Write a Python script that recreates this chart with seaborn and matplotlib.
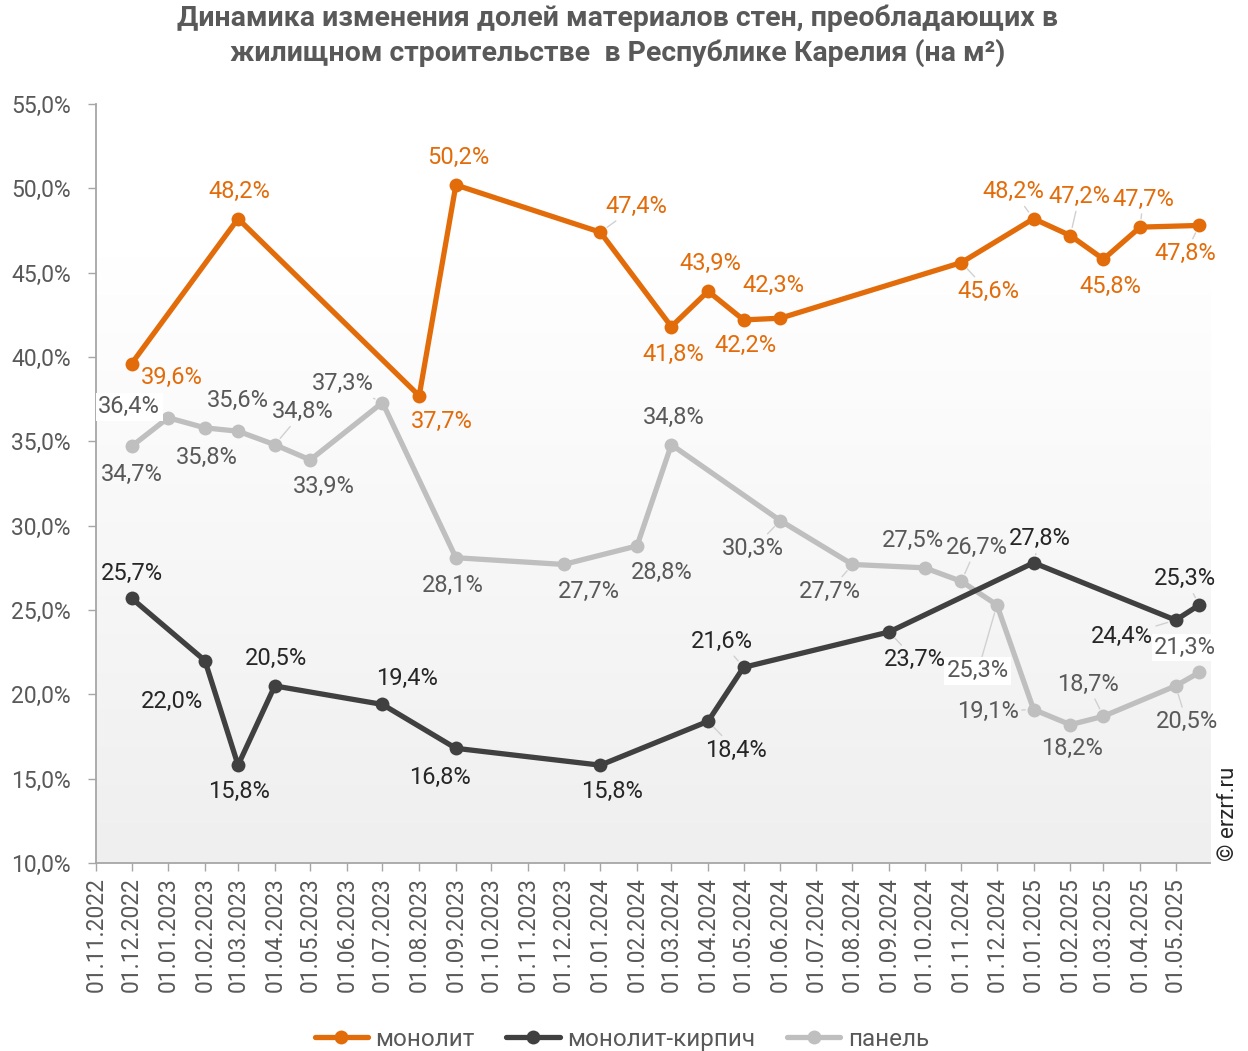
import numpy as np
import pandas as pd
import matplotlib
matplotlib.use("Agg")
import matplotlib.pyplot as plt
import matplotlib.dates as mdates
import seaborn as sns

# Data (share of wall materials, %)
dates_mono = ['2022-12-01', '2023-03-01', '2023-08-01', '2023-09-01', '2024-01-01', '2024-03-01',
              '2024-04-01', '2024-05-01', '2024-06-01', '2024-11-01', '2025-01-01', '2025-02-01',
              '2025-03-01', '2025-04-01', '2025-05-21']
mono = [39.6, 48.2, 37.7, 50.2, 47.4, 41.8, 43.9, 42.2, 42.3, 45.6, 48.2, 47.2, 45.8, 47.7, 47.8]

dates_mk = ['2022-12-01', '2023-02-01', '2023-03-01', '2023-04-01', '2023-07-01', '2023-09-01',
            '2024-01-01', '2024-04-01', '2024-05-01', '2024-09-01', '2025-01-01', '2025-05-01',
            '2025-05-21']
mk = [25.7, 22.0, 15.8, 20.5, 19.4, 16.8, 15.8, 18.4, 21.6, 23.7, 27.8, 24.4, 25.3]

dates_panel = ['2022-12-01', '2023-01-01', '2023-02-01', '2023-03-01', '2023-04-01', '2023-05-01',
               '2023-07-01', '2023-09-01', '2023-12-01', '2024-02-01', '2024-03-01', '2024-06-01',
               '2024-08-01', '2024-10-01', '2024-11-01', '2024-12-01', '2025-01-01', '2025-02-01',
               '2025-03-01', '2025-05-01', '2025-05-21']
panel = [34.7, 36.4, 35.8, 35.6, 34.8, 33.9, 37.3, 28.1, 27.7, 28.8, 34.8, 30.3, 27.7, 27.5,
         26.7, 25.3, 19.1, 18.2, 18.7, 20.5, 21.3]

series_names = ['монолит', 'монолит-кирпич', 'панель']

# label placement (pixel offsets, y down) -- styling only
off_mono = [(40, 14), (1, -27), (23, 26), (2, -27), (36, -26), (2, 28), (2, -28), (2, 26), (-7, -33),
            (27, 29), (-20, -27), (9, -39), (7, 27), (3, -28), (-14, 28)]
lead_mono = [4, 9, 10, 11, 13, 14]
off_mk = [(0, -25), (-33, 41), (1, 26), (1, -27), (25, -26), (-16, 29), (12, 26), (28, 29), (-22, -26),
          (26, 28), (6, -24), (-54, 16), (-14, -26)]
lead_mk = [7, 8, 9, 10, 11, 12]
off_panel = [(0, 28), (-39, -11), (2, 30), (0, -31), (28, -33), (14, 27), (-40, -19), (-3, 28), (25, 27),
             (25, 27), (2, -27), (-27, 28), (-23, 27), (-12, -27), (15, -34), (-19, 66), (-46, 2),
             (2, 24), (-16, -32), (11, 36), (-14, -25)]
lead_panel = [4, 6, 11, 12, 14, 15, 16, 18, 19]
box_panel = [1, 15, 20]

line_colors = ['#E36C0A', '#404040', '#BFBFBF']
text_colors = ['#E36C0A', '#262626', '#595959']

sns.set_style("white")
plt.rcParams['font.family'] = ['Roboto', 'DejaVu Sans']

fig = plt.figure(figsize=(12.48, 10.51), dpi=100)
ax = fig.add_axes([96 / 1248, 1 - 863 / 1051, (1210 - 96) / 1248, (863 - 104) / 1051])

# gradient background of plot area
grad = np.linspace(1, 0, 256).reshape(-1, 1)
grad = np.clip(grad * 1.25, 0, 1)
cmap = matplotlib.colors.LinearSegmentedColormap.from_list('g', ['#EFEFEF', '#FFFFFF'])
ax.imshow(grad, extent=[0, 1, 0, 1], transform=ax.transAxes, cmap=cmap, aspect='auto', zorder=0)

all_data = [(dates_mono, mono, off_mono, lead_mono, []),
            (dates_mk, mk, off_mk, lead_mk, []),
            (dates_panel, panel, off_panel, lead_panel, box_panel)]

order = [2, 1, 0]
for i in order:
    d, v, offs, leads, boxes = all_data[i]
    df = pd.DataFrame({'date': pd.to_datetime(d), 'value': v})
    sns.lineplot(data=df, x='date', y='value', ax=ax, color=line_colors[i], linewidth=3.8,
                 marker='o', markersize=10, markeredgewidth=0, label=series_names[i], zorder=3 + (2 - i))

for i in order:
    d, v, offs, leads, boxes = all_data[i]
    dts = pd.to_datetime(d)
    for k, (dt, val) in enumerate(zip(dts, v)):
        dx, dy = offs[k]
        kw = dict(textcoords='offset points', xytext=(dx * 0.72, -dy * 0.72), ha='center', va='center',
                  fontsize=17, color=text_colors[i], zorder=10)
        if k in leads:
            kw['arrowprops'] = dict(arrowstyle='-', color='#D0D0D0', lw=1, shrinkA=0, shrinkB=6)
        if k in boxes:
            kw['bbox'] = dict(boxstyle='square,pad=0.1', fc='white', ec='none')
        ax.annotate(f"{val:.1f}%".replace('.', ','), (mdates.date2num(dt), val), **kw)

ax.set_ylim(10, 55)
ax.set_yticks(np.arange(10, 56, 5))
ax.set_yticklabels([f"{t:.1f}%".replace('.', ',') for t in np.arange(10, 56, 5)])
ax.set_xlim(pd.Timestamp('2022-11-01'), pd.Timestamp('2025-05-30'))
ax.xaxis.set_major_locator(mdates.MonthLocator(bymonthday=1))
ax.xaxis.set_major_formatter(mdates.DateFormatter('%d.%m.%Y'))
ax.set_xlabel('')
ax.set_ylabel('')

ax.tick_params(axis='x', rotation=90, labelsize=16.5, colors='#595959', length=6, width=1,
               direction='out', bottom=True, pad=4)
ax.tick_params(axis='y', labelsize=16.5, colors='#595959', length=6, width=1, direction='out', left=True, pad=12)
for lab in ax.get_xticklabels() + ax.get_yticklabels():
    lab.set_color('#595959')
for s in ['top', 'right']:
    ax.spines[s].set_visible(False)
for s in ['left', 'bottom']:
    ax.spines[s].set_color('#A6A6A6')
    ax.spines[s].set_linewidth(1.3)
ax.tick_params(color='#A6A6A6')

handles, labels = ax.get_legend_handles_labels()
hmap = dict(zip(labels, handles))
ax.legend([hmap[n] for n in series_names], series_names, loc='center', bbox_to_anchor=(0.472, -0.232),
          ncol=3, frameon=False, fontsize=17.5, handlelength=2.2, columnspacing=1.3, handletextpad=0.3,
          labelcolor='#595959')

fig.text(0.495, 1 - 5 / 1051,
         "Динамика изменения долей материалов стен, преобладающих в\nжилищном строительстве  в Республике Карелия (на м²)",
         ha='center', va='top', fontsize=20.5, fontweight='bold', color='#595959', linespacing=1.3)
fig.text(1228 / 1248, 1 - 814 / 1051, "© erzrf.ru", rotation=90, ha='center', va='center',
         fontsize=16, color='#262626')

fig.savefig('out.png', dpi=100)
